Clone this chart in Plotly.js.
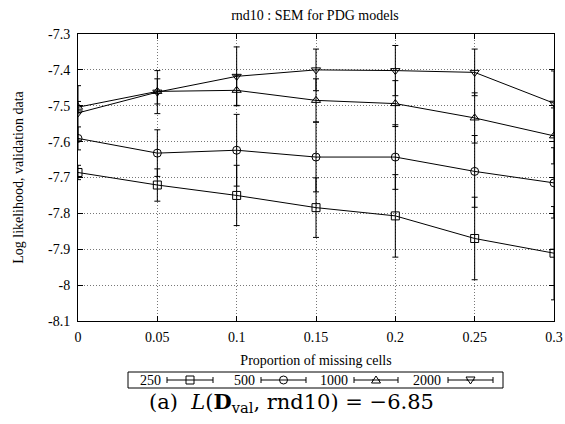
<!DOCTYPE html>
<html>
<head>
<meta charset="utf-8">
<script src="https://cdn.plot.ly/plotly-3.0.1.min.js"></script>
<style>html,body{margin:0;padding:0;background:#fff;}#chart{width:565px;height:424px;}</style>
</head>
<body>
<div id="chart"></div>
<script>
// ---- data ----
const proportion = [0, 0.05, 0.1, 0.15, 0.2, 0.25, 0.3];
const seriesNames = ["250", "500", "1000", "2000"];
const ll250  = [-7.686, -7.721, -7.750, -7.784, -7.807, -7.870, -7.911];
const err250 = [0.020, 0.045, 0.084, 0.083, 0.115, 0.115, 0.130];
const ll500  = [-7.591, -7.632, -7.624, -7.643, -7.643, -7.683, -7.715];
const err500 = [0.032, 0.065, 0.100, 0.097, 0.090, 0.100, 0.098];
const ll1000  = [-7.504, -7.460, -7.457, -7.485, -7.494, -7.534, -7.584];
const err1000 = [0.016, 0.035, 0.042, 0.060, 0.064, 0.070, 0.078];
const ll2000  = [-7.520, -7.462, -7.418, -7.400, -7.402, -7.407, -7.493];
const err2000 = [0.076, 0.060, 0.082, 0.058, 0.070, 0.065, 0.090];
const xTickVals = [0, 0.05, 0.1, 0.15, 0.2, 0.25, 0.3];
const xTickText = ["0", "0.05", "0.1", "0.15", "0.2", "0.25", "0.3"];
const yTickVals = [-8.1, -8, -7.9, -7.8, -7.7, -7.6, -7.5, -7.4, -7.3];
const yTickText = ["-8.1", "-8", "-7.9", "-7.8", "-7.7", "-7.6", "-7.5", "-7.4", "-7.3"];

const symbols = ["square-open", "circle-open", "triangle-up-open", "triangle-down-open"];
const values = [ll250, ll500, ll1000, ll2000];
const errors = [err250, err500, err1000, err2000];

const FONT = "Liberation Serif, Times New Roman, serif";

const traces = values.map((v, i) => ({
  x: proportion, y: v, type: "scatter", mode: "lines+markers",
  name: seriesNames[i],
  line: {color: "#000", width: 1},
  marker: {symbol: symbols[i], size: 8, color: "#000", line: {color: "#000", width: 1}},
  error_y: {type: "data", array: errors[i], visible: true, color: "#000", thickness: 1, width: 3},
  showlegend: false
}));

// ---- layout geometry ----
const W = 565, H = 424, PL = 78, PR = 554, PT = 34, PB = 321;
const px = x => (x - PL) / (PR - PL);
const py = y => (PB - y) / (PB - PT);

// ---- hand-drawn key (gnuplot style: label then sample) ----
const shapes = [];
const annotations = [];
shapes.push({type: "rect", xref: "paper", yref: "paper", x0: px(128), x1: px(503), y0: py(388), y1: py(372),
  line: {color: "#000", width: 1}, fillcolor: "rgba(0,0,0,0)"});
const keyY = 380;
const keyItems = [
  {textR: 163, a: 167, b: 213},
  {textR: 257, a: 261, b: 306},
  {textR: 350, a: 354, b: 398},
  {textR: 443, a: 448, b: 493}
];
keyItems.forEach((k, i) => {
  annotations.push({xref: "paper", yref: "paper", x: px(k.textR), y: py(keyY), xanchor: "right", yanchor: "middle",
    text: seriesNames[i], showarrow: false, font: {family: FONT, size: 14, color: "#000"}});
  const ln = {color: "#000", width: 1};
  shapes.push({type: "line", xref: "paper", yref: "paper", x0: px(k.a), x1: px(k.b), y0: py(keyY), y1: py(keyY), line: ln});
  shapes.push({type: "line", xref: "paper", yref: "paper", x0: px(k.a), x1: px(k.a), y0: py(keyY - 3), y1: py(keyY + 3), line: ln});
  shapes.push({type: "line", xref: "paper", yref: "paper", x0: px(k.b), x1: px(k.b), y0: py(keyY - 3), y1: py(keyY + 3), line: ln});
  const cx = (k.a + k.b) / 2, r = 4;
  const fill = "#fff";
  if (i === 0) {
    shapes.push({type: "rect", xref: "paper", yref: "paper", x0: px(cx - r), x1: px(cx + r), y0: py(keyY + r), y1: py(keyY - r), line: ln, fillcolor: fill});
  } else if (i === 1) {
    shapes.push({type: "circle", xref: "paper", yref: "paper", x0: px(cx - r), x1: px(cx + r), y0: py(keyY + r), y1: py(keyY - r), line: ln, fillcolor: fill});
  } else if (i === 2) {
    shapes.push({type: "path", xref: "paper", yref: "paper", line: ln, fillcolor: fill,
      path: `M ${px(cx)},${py(keyY - r)} L ${px(cx + r + 0.5)},${py(keyY + r - 1)} L ${px(cx - r - 0.5)},${py(keyY + r - 1)} Z`});
  } else {
    shapes.push({type: "path", xref: "paper", yref: "paper", line: ln, fillcolor: fill,
      path: `M ${px(cx)},${py(keyY + r)} L ${px(cx + r + 0.5)},${py(keyY - r + 1)} L ${px(cx - r - 0.5)},${py(keyY - r + 1)} Z`});
  }
  shapes.push({type: "line", xref: "paper", yref: "paper", x0: px(cx - r), x1: px(cx + r), y0: py(keyY), y1: py(keyY), line: ln});
});

annotations.push({xref: "paper", yref: "paper", x: px(291), y: py(402), xanchor: "center", yanchor: "middle", showarrow: false,
  text: "(a)  <i>L</i>(<b>D</b><sub>val</sub>, rnd10) = \u22126.85",
  font: {family: "DejaVu Serif, serif", size: 21, color: "#000"}});

const axisCommon = {
  showline: true, linecolor: "#000", linewidth: 1, mirror: "ticks",
  ticks: "inside", ticklen: 5, tickcolor: "#000", tickwidth: 1,
  showgrid: true, gridcolor: "#777", griddash: "1px,2px", gridwidth: 1,
  zeroline: false, tickfont: {family: FONT, size: 14, color: "#000"}
};

const layout = {
  width: W, height: H,
  margin: {l: PL, r: W - PR, t: PT, b: H - PB, pad: 0},
  paper_bgcolor: "#fff", plot_bgcolor: "#fff",
  font: {family: FONT, size: 14, color: "#000"},
  title: {text: "rnd10 : SEM for PDG models", font: {family: FONT, size: 14, color: "#000"},
    x: px(315), xref: "paper", xanchor: "center", y: 1 - 15 / H, yref: "container", yanchor: "middle"},
  xaxis: Object.assign({}, axisCommon, {
    range: [0, 0.3], tickvals: xTickVals, ticktext: xTickText, ticklabelstandoff: 3,
    title: {text: "Proportion of missing cells", font: {family: FONT, size: 14, color: "#000"}, standoff: 11}
  }),
  yaxis: Object.assign({}, axisCommon, {
    range: [-8.1, -7.3], tickvals: yTickVals, ticktext: yTickText, ticklabelstandoff: 4,
    title: {text: "Log likelihood, validation data", font: {family: FONT, size: 14, color: "#000"}, standoff: 21}
  }),
  shapes: shapes,
  annotations: annotations,
  showlegend: false
};

Plotly.newPlot("chart", traces, layout, {displayModeBar: false, staticPlot: true});
</script>
</body>
</html>
